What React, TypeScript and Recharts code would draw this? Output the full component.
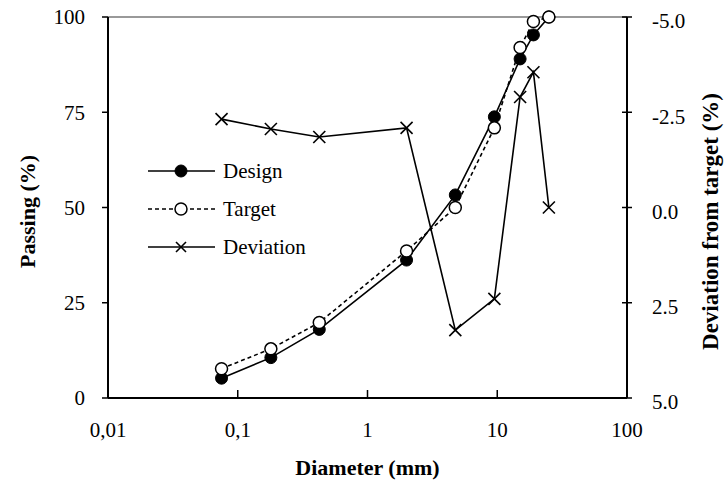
import { ComposedChart, Line, XAxis, YAxis, ReferenceLine } from 'recharts';

if (typeof document !== 'undefined') document.body.style.margin = '0';

const diameters = [0.075, 0.18, 0.425, 2, 4.75, 9.5, 15, 19, 25];
const design = [5.2, 10.6, 18, 36.2, 53.3, 73.8, 89, 95.3, 100];
const target = [7.7, 12.9, 19.8, 38.6, 50, 70.9, 92, 98.8, 100];
const deviation = [-2.32, -2.06, -1.85, -2.09, 3.22, 2.4, -2.9, -3.55, 0];

const xTicks = [0.01, 0.1, 1, 10, 100];
const leftTicks = [0, 25, 50, 75, 100];
const rightTicks = [-5, -2.5, 0, 2.5, 5];

const data = diameters.map((d, i) => ({
  d,
  design: design[i],
  target: target[i],
  deviation: deviation[i],
}));

const FONT = '"Liberation Serif", "Times New Roman", serif';
const W = 724;
const H = 481;
const TICK_FS = 21;
const TITLE_FS = 22;

const fmtX = (v: number) => String(v).replace('.', ',');

function RightTick(props: any) {
  const { x, y, payload } = props;
  const M = 20;
  const S = 5;
  const ax = x - M - S;
  return (
    <g>
      <line x1={ax - S} x2={ax + S} y1={y} y2={y} stroke="#000" strokeWidth={1.5} />
      <text x={x} y={y + 4} dy="0.35em" textAnchor="start" fontFamily={FONT} fontSize={TICK_FS} fill="#000">
        {payload.value.toFixed(1)}
      </text>
    </g>
  );
}

function CrossDot(props: any) {
  const { cx, cy } = props;
  if (cx == null || cy == null) return null;
  const r = 6;
  return (
    <g>
      <line x1={cx - r} y1={cy - r} x2={cx + r} y2={cy + r} stroke="#000" strokeWidth={1.6} />
      <line x1={cx - r} y1={cy + r} x2={cx + r} y2={cy - r} stroke="#000" strokeWidth={1.6} />
    </g>
  );
}

// rotated axis title, placed from the axis viewBox
function SideTitle({ viewBox, value, side, shift = 0, size = TITLE_FS }: any) {
  if (!viewBox) return null;
  const x = side === 'left' ? viewBox.x + 27 : viewBox.x + viewBox.width - 14;
  const y = viewBox.y + viewBox.height / 2 + shift;
  return (
    <text
      x={x}
      y={y}
      transform={`rotate(-90 ${x} ${y})`}
      textAnchor="middle"
      dominantBaseline="central"
      fontFamily={FONT}
      fontSize={size}
      fontWeight="bold"
      fill="#000"
    >
      {value}
    </text>
  );
}

// legend drawn as an overlay so it does not eat into the plot area
function LegendBox() {
  const rows = [
    { name: 'Design', dash: undefined, marker: 'filled' },
    { name: 'Target', dash: '4 3', marker: 'open' },
    { name: 'Deviation', dash: undefined, marker: 'cross' },
  ];
  return (
    <svg width={200} height={110} style={{ position: 'absolute', left: 148, top: 157 }}>
      {rows.map((r, i) => {
        const y = 14 + i * 38;
        return (
          <g key={r.name}>
            <line x1={0} x2={67} y1={y} y2={y} stroke="#000" strokeWidth={1.6} strokeDasharray={r.dash} />
            {r.marker === 'filled' && <circle cx={33} cy={y} r={6} fill="#000" stroke="#000" />}
            {r.marker === 'open' && <circle cx={33} cy={y} r={6} fill="#fff" stroke="#000" strokeWidth={1.5} />}
            {r.marker === 'cross' && (
              <g>
                <line x1={28} y1={y - 5} x2={38} y2={y + 5} stroke="#000" strokeWidth={1.6} />
                <line x1={28} y1={y + 5} x2={38} y2={y - 5} stroke="#000" strokeWidth={1.6} />
              </g>
            )}
            <text x={75} y={y} dy="0.35em" fontFamily={FONT} fontSize={21} fill="#000">
              {r.name}
            </text>
          </g>
        );
      })}
    </svg>
  );
}

export default function App() {
  return (
    <div style={{ width: W, height: H, background: '#fff', position: 'relative' }}>
      <ComposedChart width={W} height={H} data={data} margin={{ top: 17, right: 0, left: 0, bottom: 0 }}>
        <XAxis
          dataKey="d"
          type="number"
          scale="log"
          domain={[0.01, 100]}
          ticks={xTicks}
          tickFormatter={fmtX}
          allowDataOverflow
          height={83}
          tickSize={-8}
          tickMargin={32}
          axisLine={{ stroke: '#000', strokeWidth: 2 }}
          tickLine={{ stroke: '#000', strokeWidth: 1.5 }}
          tick={{ fill: '#000', fontSize: TICK_FS, fontFamily: FONT }}
          label={{
            value: 'Diameter (mm)',
            position: 'insideBottom',
            offset: 6,
            fill: '#000',
            fontSize: TITLE_FS,
            fontWeight: 'bold',
            fontFamily: FONT,
          }}
        />
        <YAxis
          yAxisId="left"
          domain={[0, 100]}
          ticks={leftTicks}
          width={108}
          tickSize={6}
          tickMargin={17}
          axisLine={{ stroke: '#000', strokeWidth: 2 }}
          tickLine={{ stroke: '#000', strokeWidth: 1.5 }}
          tick={{ fill: '#000', fontSize: TICK_FS, fontFamily: FONT }}
          label={<SideTitle value="Passing (%)" side="left" shift={4} />}
        />
        <YAxis
          yAxisId="right"
          orientation="right"
          domain={[-5, 5]}
          reversed
          ticks={rightTicks}
          width={97}
          tickSize={5}
          tickMargin={20}
          tickLine={false}
          axisLine={{ stroke: '#000', strokeWidth: 2 }}
          tick={<RightTick />}
          label={<SideTitle value="Deviation from target (%)" side="right" shift={14} size={23} />}
        />
        <ReferenceLine yAxisId="left" y={100} stroke="#999" strokeWidth={2} />
        <Line
          yAxisId="left"
          dataKey="design"
          stroke="#000"
          strokeWidth={1.6}
          dot={{ r: 6, fill: '#000', stroke: '#000', strokeWidth: 1 }}
          isAnimationActive={false}
        />
        <Line
          yAxisId="left"
          dataKey="target"
          stroke="#000"
          strokeWidth={1.6}
          strokeDasharray="4 3"
          dot={{ r: 6, fill: '#fff', stroke: '#000', strokeWidth: 1.5, strokeDasharray: '' }}
          isAnimationActive={false}
        />
        <Line
          yAxisId="right"
          dataKey="deviation"
          stroke="#000"
          strokeWidth={1.6}
          dot={<CrossDot />}
          isAnimationActive={false}
        />
      </ComposedChart>
      <LegendBox />
    </div>
  );
}
